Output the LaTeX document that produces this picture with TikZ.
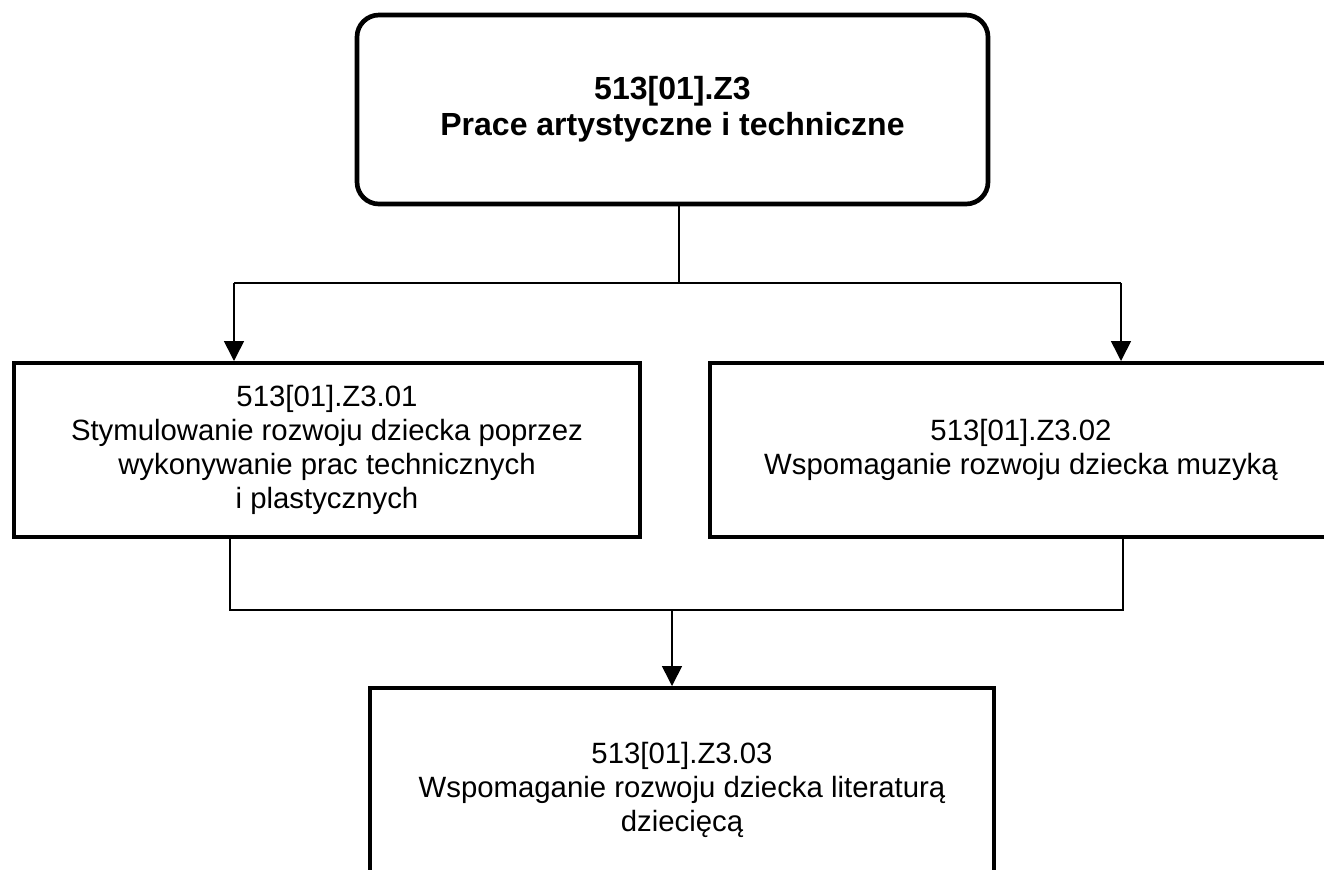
\documentclass[tikz,border=0pt]{standalone}
\usepackage{fontspec}
\setmainfont{Liberation Sans}
\usepackage{tikz}
\usetikzlibrary{arrows,arrows.meta}

\begin{document}
\begin{tikzpicture}[x=0.75pt,y=-0.75pt,
    mainbox/.style={draw,line width=3.5pt,rounded corners=16.5pt,align=center,
        minimum width=473.25pt,minimum height=141.75pt,
        font=\fontsize{24pt}{27pt}\selectfont\bfseries},
    subbox/.style={draw,line width=3pt,align=center,
        minimum width=469.5pt,minimum height=130.5pt,
        font=\fontsize{22pt}{25.5pt}\selectfont},
    conn/.style={line width=1.2pt},
    arr/.style={line width=1.2pt,-{Triangle[width=15pt,length=15pt]}}]
        \useasboundingbox (0,0) rectangle (1324,869);
        \clip (0,0) rectangle (1324,869);
        \node[mainbox] (top) at (672.5,109.5) {513[01].Z3\\Prace artystyczne i techniczne};
        \node[subbox] (lbox) at (327,450) {513[01].Z3.01\\Stymulowanie rozwoju dziecka poprzez\\wykonywanie prac technicznych\\i plastycznych};
        \node[subbox,minimum width=466.5pt] (muz) at (1021,450) {513[01].Z3.02\\Wspomaganie rozwoju dziecka muzyką};
        \node[subbox,minimum width=468pt,minimum height=153pt] (lit) at (682,790) {513[01].Z3.03\\Wspomaganie rozwoju dziecka literaturą\\dziecięcą};
        \coordinate (jT) at (679,283);
        \coordinate (jL) at (234,283);
        \coordinate (jR) at (1121,283);
        \coordinate (kL) at (230,610);
        \coordinate (kR) at (1123,610);
        \coordinate (kM) at (672,610);
        \draw[conn] (top.south -| jT) -- (jT);
        \draw[conn] (jL) -- (jR);
        \draw[arr] (jL) -- (jL |- lbox.north);
        \draw[arr] (jR) -- (jR |- muz.north);
        \draw[conn] (lbox.south -| kL) -- (kL) -- (kR) -- (muz.south -| kR);
        \draw[arr] (kM) -- (kM |- lit.north);
    \end{tikzpicture}
\end{document}
